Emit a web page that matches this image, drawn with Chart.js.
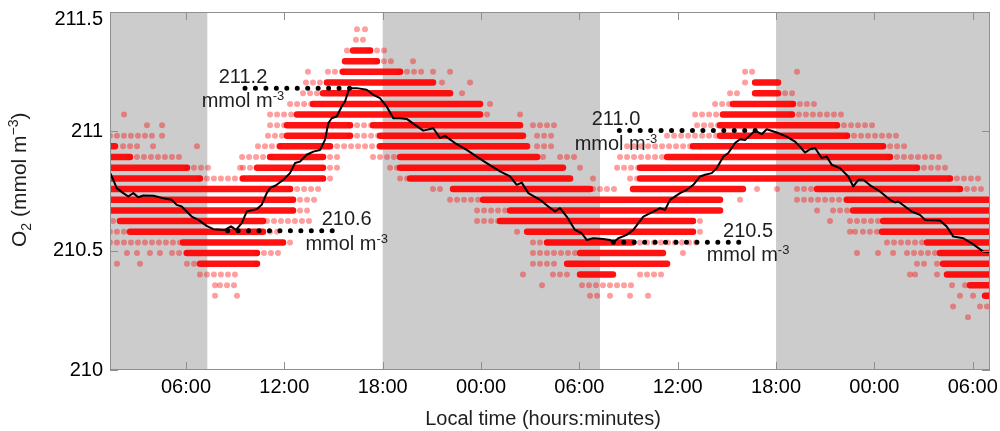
<!DOCTYPE html>
<html><head><meta charset="utf-8">
<script src="https://cdn.jsdelivr.net/npm/chart.js@4/dist/chart.umd.min.js"></script>
<style>html,body{margin:0;padding:0;background:#fff;}#wrap{width:1000px;height:431px;position:relative;}</style>
</head><body><div id="wrap"><canvas id="c"></canvas></div>
<script>
// ---- axis ranges & ticks (hours since midnight of first day) ----
const X_MIN = 1.363, X_MAX = 55.053;
const Y_MIN = 210, Y_MAX = 211.5;
const X_TICK_HOURS = [6, 12, 18, 24, 30, 36, 42, 48, 54];
const X_TICK_LABELS = ['06:00','12:00','18:00','00:00','06:00','12:00','18:00','00:00','06:00'];
const Y_TICK_VALUES = [210, 210.5, 211, 211.5];
const Y_TICK_LABELS = ['210', '210.5', '211', '211.5'];
// ---- night (shaded) periods ----
const NIGHT_START = [1.363, 18.0, 42.0];
const NIGHT_END = [7.30, 31.26, 55.053];
// ---- running mean (black line) ----
const MEAN_TIME = [1.363,1.564,1.772,2.174,2.479,2.785,3.090,3.395,4.005,4.615,5.128,5.433,5.738,6.043,6.348,6.751,7.263,7.666,8.379,8.745,9.050,9.399,9.704,10.314,10.619,10.924,11.125,11.534,11.937,12.345,12.651,12.955,13.364,13.767,14.176,14.480,14.682,14.889,15.194,15.499,15.701,15.963,16.415,17.025,17.428,17.836,18.245,18.648,19.057,19.465,19.972,20.478,21.088,21.497,21.802,22.412,23.126,23.736,24.346,25.158,25.768,26.177,26.482,26.885,27.599,28.105,28.514,28.819,29.228,29.734,30.143,30.448,30.851,31.461,31.870,32.072,32.377,32.889,33.292,33.597,33.902,34.512,34.920,35.226,35.531,36.141,36.550,36.953,37.361,37.666,38.075,38.380,38.783,39.088,39.497,39.801,40.106,40.716,41.125,41.430,42.040,42.650,43.157,43.461,43.767,44.072,44.377,44.785,45.090,45.395,45.901,46.408,46.713,47.018,47.323,47.836,48.342,48.952,49.257,49.459,49.868,50.276,50.783,51.088,52.003,52.412,52.815,53.425,53.937,54.645,55.053];
const MEAN_O2 = [210.827,210.797,210.762,210.741,210.727,210.741,210.724,210.731,210.730,210.720,210.713,210.692,210.685,210.664,210.643,210.629,210.604,210.590,210.587,210.602,210.587,210.615,210.664,210.674,210.692,210.741,210.762,210.776,210.797,210.825,210.867,210.873,210.902,210.915,210.922,210.964,211.034,211.055,211.062,211.104,211.125,211.181,211.181,211.174,211.153,211.139,211.104,211.055,211.055,211.052,211.027,211.003,211.013,210.972,210.981,210.951,210.922,210.894,210.867,210.832,210.811,210.776,210.785,210.741,210.713,210.685,210.664,210.678,210.643,210.587,210.573,210.545,210.552,210.549,210.545,210.534,210.552,210.566,210.587,210.615,210.643,210.664,210.678,210.671,210.713,210.741,210.755,210.776,210.811,210.818,210.825,210.846,210.894,210.909,210.951,210.967,210.964,211.003,210.988,211.009,210.995,210.978,210.957,210.936,210.911,210.925,210.930,210.888,210.894,210.860,210.846,210.811,210.769,210.797,210.797,210.769,210.748,210.713,210.702,210.706,210.685,210.664,210.650,210.629,210.626,210.601,210.559,210.552,210.531,210.496,210.492];
// ---- individual measurements: runs of densely packed readings [O2, startHour, endHour] ----
const DENSE_RUNS = [
 [211.339,16.19,17.23],
 [211.294,15.70,17.65],
 [211.250,15.58,19.06],
 [211.205,14.60,21.07],[211.205,40.72,42.12],
 [211.160,14.36,22.11],[211.160,40.72,42.12],
 [211.115,13.75,23.94],[211.115,39.37,43.03],
 [211.071,12.77,23.94],[211.071,38.76,42.97],
 [211.026,12.16,16.01],[211.026,17.41,26.38],[211.026,38.58,45.72],
 [210.981,12.16,16.01],[210.981,17.84,26.56],[210.981,38.58,46.33],
 [210.937,1.36,1.67],[210.937,11.74,14.79],[210.937,17.84,26.81],[210.937,36.93,48.53],
 [210.892,1.36,2.58],[210.892,11.13,14.36],[210.892,19.06,27.42],[210.892,35.35,48.95],
 [210.847,1.36,6.06],[210.847,10.33,14.36],[210.847,19.06,29.00],[210.847,33.70,50.60],
 [210.802,1.36,6.85],[210.802,9.48,14.36],[210.802,19.67,29.43],[210.802,33.70,52.61],
 [210.758,1.36,12.35],[210.758,22.29,30.65],[210.758,33.27,39.98],[210.758,44.50,53.22],
 [210.713,1.36,12.53],[210.713,24.12,38.58],[210.713,46.33,55.05],
 [210.668,1.36,12.53],[210.668,25.77,38.58],[210.668,46.70,55.05],
 [210.624,1.97,10.70],[210.624,25.16,36.93],[210.624,48.53,55.05],
 [210.579,2.58,10.70],[210.579,26.81,36.93],[210.579,48.46,55.05],
 [210.534,5.82,11.92],[210.534,28.03,33.27],[210.534,51.21,55.05],
 [210.490,6.06,10.33],[210.490,30.04,35.10],[210.490,52.00,55.05],
 [210.445,6.85,10.33],[210.445,29.25,35.35],[210.445,52.19,55.05],
 [210.400,30.04,32.05],[210.400,52.43,55.05],
 [210.355,53.83,55.05],
 [210.311,54.75,55.05]
];
// ---- runs of scattered readings [O2, startHour, endHour] ----
const SPARSE_RUNS = [
 [211.384,16.37,17.10],
 [211.339,15.82,16.19],[211.339,17.23,18.26],
 [211.294,17.65,18.63],
 [211.250,14.66,15.58],[211.250,19.06,20.46],[211.250,40.11,40.84],
 [211.205,13.32,14.60],
 [211.160,13.14,14.36],[211.160,39.19,39.98],[211.160,42.55,43.28],
 [211.115,12.35,13.75],[211.115,38.28,39.37],[211.115,43.03,44.38],
 [211.071,11.13,12.77],[211.071,37.06,38.76],[211.071,42.97,46.09],
 [211.026,11.13,12.16],[211.026,16.01,17.41],[211.026,27.17,28.64],[211.026,37.18,38.58],[211.026,45.72,48.16],
 [210.981,1.36,3.99],[210.981,11.00,12.16],[210.981,16.01,17.84],[210.981,27.42,28.39],[210.981,35.35,38.58],[210.981,46.33,49.38],
 [210.937,2.16,3.19],[210.937,3.99,4.41],[210.937,10.39,11.74],[210.937,14.79,17.84],[210.937,27.42,28.64],[210.937,32.91,36.93],[210.937,48.53,49.99],
 [210.892,2.58,5.82],[210.892,9.42,11.13],[210.892,14.36,15.58],[210.892,17.41,19.06],[210.892,28.82,30.04],[210.892,32.48,35.35],[210.892,48.95,52.19],
 [210.847,6.06,7.65],[210.847,9.48,10.33],[210.847,14.36,15.58],[210.847,18.45,19.06],[210.847,32.30,33.70],[210.847,50.60,52.43],
 [210.802,6.85,9.48],[210.802,14.36,15.09],[210.802,19.06,19.67],[210.802,33.09,33.70],[210.802,52.61,54.44],
 [210.758,12.35,14.36],[210.758,21.07,21.68],[210.758,30.83,32.48],[210.758,43.28,44.50],[210.758,53.22,54.75],
 [210.713,12.53,13.99],[210.713,22.11,24.12],[210.713,43.28,46.33],
 [210.668,12.53,13.75],[210.668,23.76,25.77],[210.668,45.48,46.51],
 [210.624,1.55,1.97],[210.624,10.94,13.75],[210.624,23.76,25.16],[210.624,36.93,37.36],[210.624,46.51,48.34],
 [210.579,1.36,2.58],[210.579,10.70,11.92],[210.579,36.93,37.36],[210.579,47.30,48.16],
 [210.534,1.36,5.82],[210.534,11.92,12.35],[210.534,27.17,28.03],[210.534,33.70,37.36],[210.534,48.77,51.21],
 [210.490,5.15,6.06],[210.490,10.33,11.92],[210.490,27.17,29.86],[210.490,49.99,52.00],
 [210.445,1.79,2.10],[210.445,6.06,6.85],[210.445,10.33,10.70],[210.445,27.17,28.64],[210.445,50.60,51.21],[210.445,51.82,52.19],
 [210.400,6.85,9.30],[210.400,28.39,29.25],[210.400,33.70,35.35],
 [210.355,8.50,9.11],[210.355,30.16,33.52],[210.355,52.74,53.04],
 [210.311,30.65,31.26],
 [210.266,54.44,55.05]
];
// ---- isolated readings [hour, O2] ----
const SINGLE_POINTS = [
 [16.43,211.428],[16.92,211.428],[19.85,211.294],
 [13.44,211.250],[21.07,211.250],[22.11,211.250],[43.28,211.250],
 [21.62,211.205],[23.33,211.205],[40.11,211.205],[22.84,211.160],[24.55,211.115],
 [2.22,211.071],[24.37,211.071],[26.38,211.071],[3.62,211.026],[4.54,211.026],
 [4.54,210.981],[6.67,210.937],[27.78,210.892],[9.30,210.847],[30.04,210.847],[30.83,210.802],
 [40.84,210.758],[42.06,210.758],[39.80,210.713],[44.50,210.668],[45.29,210.624],
 [46.51,210.579],[46.82,210.579],[26.20,210.579],
 [2.40,210.490],[3.01,210.490],[3.80,210.490],[4.41,210.490],[36.32,210.490],[46.94,210.490],[48.22,210.490],[49.14,210.490],
 [3.19,210.445],[26.56,210.400],[50.17,210.400],[50.48,210.400],[51.82,210.400],
 [7.77,210.355],[8.07,210.355],[27.72,210.355],[53.53,210.355],
 [7.77,210.311],[9.11,210.311],[31.87,210.311],[33.09,210.311],[34.19,210.311],[53.22,210.311],[54.02,210.311],
 [52.80,210.266],[53.71,210.221]
];
// ---- annotations (extrema) ----
const ANNOT_VALUE = [211.181, 210.583, 211.003, 210.535];
const ANNOT_START = [9.600, 8.544, 32.437, 32.071];
const ANNOT_END = [16.006, 15.499, 41.326, 39.801];
const ANNOT_LABEL_TIME = [9.478, 15.805, 32.235, 40.290];
const ANNOT_LABEL = ['211.2', '210.6', '211.0', '210.5'];
const UNIT_MAIN = 'mmol m', UNIT_SUP = '-3';
const X_TITLE = 'Local time (hours:minutes)';
const Y_TITLE = [['O',0],['2',1],[' (mmol m',0],['\u22123',2],[')',0]];

const FONT = '"Liberation Sans", Arial, Helvetica, sans-serif';
Chart.defaults.font.family = FONT;

function runsToData(runs){
  const d = [];
  runs.forEach(r => { d.push({x:r[1], y:r[0]}); d.push({x:r[2], y:r[0]}); d.push({x:r[2], y:null}); });
  return d;
}

const datasets = [
  {label:'mean', data: MEAN_TIME.map((t,i)=>({x:t, y:MEAN_O2[i]})), borderColor:'#000', borderWidth:2, pointRadius:0, tension:0, order:0, borderJoinStyle:'round'}
];
ANNOT_VALUE.forEach((v,i)=>{
  datasets.push({label:'annot'+i, data:[{x:ANNOT_START[i], y:v},{x:ANNOT_END[i], y:v}], borderColor:'#000', borderWidth:5,
    borderDash:[0,10.45], borderCapStyle:'round', pointRadius:0, order:1});
});
datasets.push({label:'dense', data: runsToData(DENSE_RUNS), borderColor:'rgba(255,0,0,0.93)', borderWidth:6.5, borderCapStyle:'round',
  pointRadius:0, spanGaps:false, order:3});
datasets.push({label:'sparse', data: runsToData(SPARSE_RUNS), borderColor:'rgba(255,0,0,0.38)', borderWidth:6, borderCapStyle:'round',
  borderDash:[0,7], pointRadius:0, spanGaps:false, order:4});
datasets.push({label:'single', data: SINGLE_POINTS.map(p=>({x:p[0], y:p[1]})), showLine:false, pointRadius:3, pointHoverRadius:3,
  pointBackgroundColor:'rgba(255,0,0,0.38)', pointBorderWidth:0, order:5});

function richWidth(ctx, segs){
  let w = 0; segs.forEach(s => { ctx.font = s.size + 'px ' + FONT; w += ctx.measureText(s.text).width; }); return w;
}
function drawRich(ctx, segs, x, y){
  let cx = x;
  segs.forEach(s => { ctx.font = s.size + 'px ' + FONT; ctx.fillText(s.text, cx, y + s.dy); cx += ctx.measureText(s.text).width; });
}

const decor = {
  id: 'decor',
  beforeDatasetsDraw(chart){
    const {ctx, chartArea:a, scales:{x}} = chart;
    ctx.save();
    ctx.fillStyle = '#cccccc';
    for (let i=0;i<NIGHT_START.length;i++){
      const x0 = Math.max(a.left, x.getPixelForValue(NIGHT_START[i]));
      const x1 = Math.min(a.right, x.getPixelForValue(NIGHT_END[i]));
      ctx.fillRect(x0, a.top, x1-x0, a.bottom-a.top);
    }
    ctx.restore();
  },
  afterDatasetsDraw(chart){
    const {ctx, chartArea:a, scales:{x, y}} = chart;
    ctx.save();
    ctx.strokeStyle = '#8f8f8f'; ctx.lineWidth = 1;
    ctx.strokeRect(a.left+0.5, a.top+0.5, a.right-a.left-1, a.bottom-a.top-1);
    ctx.beginPath();
    X_TICK_HOURS.forEach(h => {
      const px = Math.round(x.getPixelForValue(h)) + 0.5;
      ctx.moveTo(px, a.bottom); ctx.lineTo(px, a.bottom-8);
      ctx.moveTo(px, a.top); ctx.lineTo(px, a.top+8);
    });
    Y_TICK_VALUES.forEach(v => {
      const py = Math.round(y.getPixelForValue(v)) + 0.5;
      ctx.moveTo(a.left, py); ctx.lineTo(a.left+8, py);
      ctx.moveTo(a.right, py); ctx.lineTo(a.right-8, py);
    });
    ctx.stroke();
    // annotation labels
    ctx.fillStyle = '#1e1e1e'; ctx.textBaseline = 'alphabetic'; ctx.textAlign = 'left';
    ANNOT_LABEL.forEach((lab,i) => {
      const cx = x.getPixelForValue(ANNOT_LABEL_TIME[i]);
      const ly = y.getPixelForValue(ANNOT_VALUE[i]);
      const s1 = [{text:lab, size:20, dy:0}];
      drawRich(ctx, s1, cx - richWidth(ctx, s1)/2, ly - 5.6);
      const s2 = [{text:UNIT_MAIN, size:20, dy:0},{text:UNIT_SUP, size:13, dy:-7}];
      drawRich(ctx, s2, cx - richWidth(ctx, s2)/2, ly + 19);
    });
    ctx.restore();
  },
  afterDraw(chart){
    const {ctx} = chart;
    ctx.save();
    ctx.fillStyle = '#1e1e1e'; ctx.textBaseline = 'alphabetic'; ctx.textAlign = 'left';
    const xs = [{text:X_TITLE, size:20, dy:0}];
    drawRich(ctx, xs, 543 - richWidth(ctx, xs)/2, 425);
    ctx.translate(26, 247); ctx.rotate(-Math.PI/2);
    const ys = Y_TITLE.map(s => ({text:s[0], size: s[1] ? 14 : 21, dy: s[1]===1 ? 5 : (s[1]===2 ? -8 : 0)}));
    drawRich(ctx, ys, 0, 0);
    ctx.restore();
  }
};

new Chart(document.getElementById('c'), {
  type: 'line',
  data: { datasets },
  options: {
    responsive: true, maintainAspectRatio: false, animation: false,
    layout: { padding: { top: 12, right: 10, left: 0, bottom: 0 } },
    plugins: { legend: {display:false}, tooltip: {enabled:false} },
    events: [],
    scales: {
      x: { type:'linear', min:X_MIN, max:X_MAX,
        grid:{display:false, drawTicks:false}, border:{display:false},
        afterBuildTicks: s => { s.ticks = X_TICK_HOURS.map(v => ({value:v})); },
        afterFit: s => { s.height = 61; s.paddingLeft = 0; s.paddingRight = 0; },
        ticks:{ autoSkip:false, maxRotation:0, padding:5, color:'#000', font:{size:20},
          callback: (v,i) => X_TICK_LABELS[i] } },
      y: { type:'linear', min:Y_MIN, max:Y_MAX,
        grid:{display:false, drawTicks:false}, border:{display:false},
        afterBuildTicks: s => { s.ticks = Y_TICK_VALUES.map(v => ({value:v})); },
        afterFit: s => { s.width = 110; s.paddingTop = 0; s.paddingBottom = 0; },
        ticks:{ padding:7, color:'#000', font:{size:20, lineHeight:0.7},
          callback: (v,i) => (Y_TICK_VALUES[i] === Y_MAX ? ['', Y_TICK_LABELS[i]] : Y_TICK_LABELS[i]) } }
    }
  },
  plugins: [decor]
});
</script></body></html>
